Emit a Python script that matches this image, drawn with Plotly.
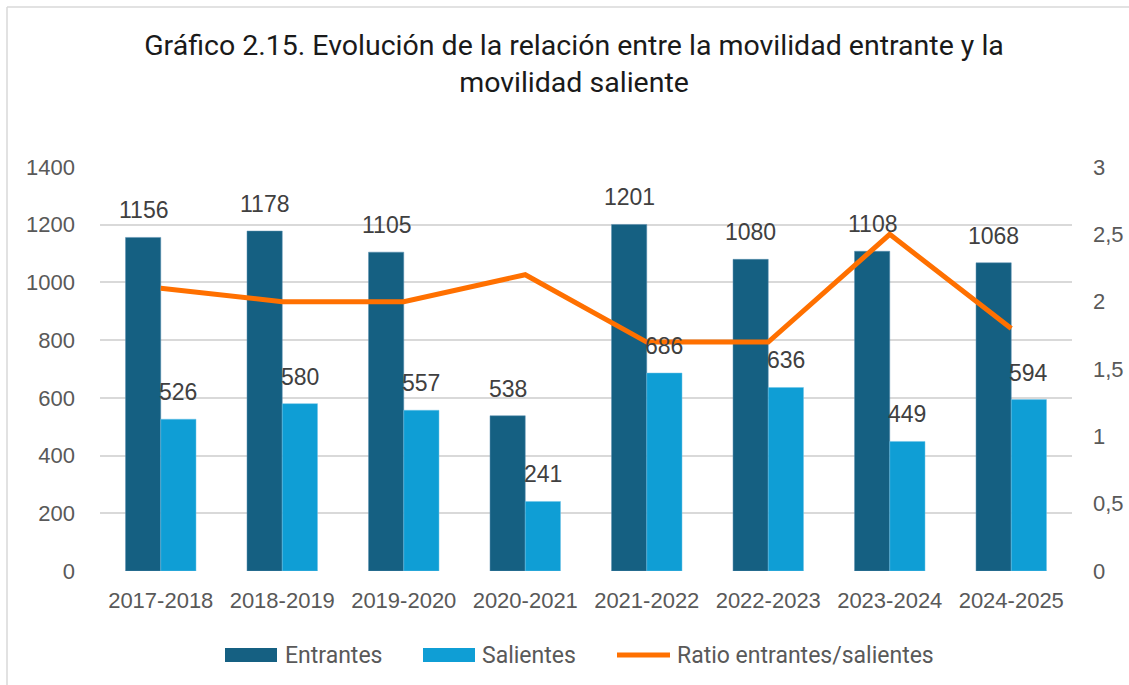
import plotly.graph_objects as go

categories = ["2017-2018", "2018-2019", "2019-2020", "2020-2021",
              "2021-2022", "2022-2023", "2023-2024", "2024-2025"]
entrantes = [1156, 1178, 1105, 538, 1201, 1080, 1108, 1068]
salientes = [526, 580, 557, 241, 686, 636, 449, 594]
ratio = [2.1, 2.0, 2.0, 2.2, 1.7, 1.7, 2.5, 1.8]
left_ticks = [0, 200, 400, 600, 800, 1000, 1200, 1400]
right_ticks = [0, 0.5, 1, 1.5, 2, 2.5, 3]
right_labels = ["0", "0,5", "1", "1,5", "2", "2,5", "3"]
series_names = ["Entrantes", "Salientes", "Ratio entrantes/salientes"]

FONT = "Liberation Sans"
TFONT = "Roboto"
GRAY = "#595959"
C_ENT, C_SAL, C_RAT = "#156082", "#0F9ED5", "#FF7000"
W, H = 1129, 685
L, R, T, B = 100, 57, 167, 114
PW, PH = W - L - R, H - T - B


def px(x):
    return (x - L) / PW


def py(y):
    return (H - B - y) / PH


fig = go.Figure()
fig.add_trace(go.Bar(
    x=categories, y=entrantes, name=series_names[0],
    marker=dict(color=C_ENT, line=dict(color="#5b8fb0", width=0.5)),
))
fig.add_trace(go.Bar(
    x=categories, y=salientes, name=series_names[1],
    marker=dict(color=C_SAL, line=dict(color="#6cc3e6", width=0.5)),
))
fig.add_trace(go.Scatter(
    x=categories, y=ratio, name=series_names[2],
    mode="lines", line=dict(color=C_RAT, width=5),
    yaxis="y2",
))

# data labels
for vals, shift in ((entrantes, -17.5), (salientes, 17.5)):
    for c, v in zip(categories, vals):
        fig.add_annotation(
            x=c, y=v, xref="x", yref="y", text=str(v), showarrow=False,
            xshift=shift, yshift=27, yanchor="middle", xanchor="center",
            font=dict(family=FONT, size=23, color="#404040"),
        )

fig.update_layout(
    width=W, height=H,
    paper_bgcolor="white", plot_bgcolor="white",
    margin=dict(l=L, r=R, t=T, b=B, autoexpand=False),
    barmode="group", bargap=0.42, bargroupgap=0,
    font=dict(family=FONT, size=20, color=GRAY),
    title=dict(
        text="Gráfico 2.15. Evolución de la relación entre la movilidad entrante y la<br>movilidad saliente",
        x=574 / W, xanchor="center", y=1 - 55 / H, yanchor="middle",
        font=dict(family=TFONT, size=28.5, color="#1a1a1a"),
    ),
    xaxis=dict(
        tickfont=dict(family=FONT, size=22, color=GRAY),
        showgrid=False, showline=False, ticks="", automargin=False,
        ticklabelstandoff=14,
    ),
    yaxis=dict(
        range=[0, 1400], tickvals=left_ticks,
        tickfont=dict(family=FONT, size=22, color=GRAY),
        showgrid=True, gridcolor="#d9d9d9", gridwidth=1.5,
        zeroline=False, showline=False, ticklabelstandoff=24,
        automargin=False,
    ),
    yaxis2=dict(
        range=[0, 3], tickvals=right_ticks, ticktext=right_labels,
        overlaying="y", side="right",
        tickfont=dict(family=FONT, size=22, color=GRAY),
        showgrid=False, zeroline=False, showline=False,
        ticklabelstandoff=20, automargin=False,
    ),
    showlegend=False,
)

# custom legend (wide swatches as in the reference)
LY = 655
legend_items = [
    ("rect", C_ENT, 225, 277, 283, series_names[0]),
    ("rect", C_SAL, 423, 475, 480, series_names[1]),
    ("line", C_RAT, 617, 670, 675, series_names[2]),
]
for kind, col, x0, x1, tx, name in legend_items:
    if kind == "rect":
        fig.add_shape(type="rect", xref="paper", yref="paper",
                      x0=px(x0), x1=px(x1), y0=py(LY + 7), y1=py(LY - 7),
                      fillcolor=col, line=dict(width=0))
    else:
        fig.add_shape(type="line", xref="paper", yref="paper",
                      x0=px(x0), x1=px(x1), y0=py(LY), y1=py(LY),
                      line=dict(color=col, width=5))
    fig.add_annotation(x=px(tx), y=py(LY), xref="paper", yref="paper",
                       text=name, showarrow=False, xanchor="left",
                       yanchor="middle",
                       font=dict(family=TFONT, size=23, color=GRAY))

# chart frame: top and left edges only
fig.add_shape(type="line", xref="paper", yref="paper",
              x0=px(7), x1=px(W), y0=py(7), y1=py(7),
              line=dict(color="#d9d9d9", width=1.5))
fig.add_shape(type="line", xref="paper", yref="paper",
              x0=px(7), x1=px(7), y0=py(7), y1=py(H),
              line=dict(color="#d9d9d9", width=1.5))

fig.write_html(
    "out.html",
    config={"displayModeBar": False},
    post_script="document.body.style.margin='0';document.body.style.overflow='hidden';",
)
